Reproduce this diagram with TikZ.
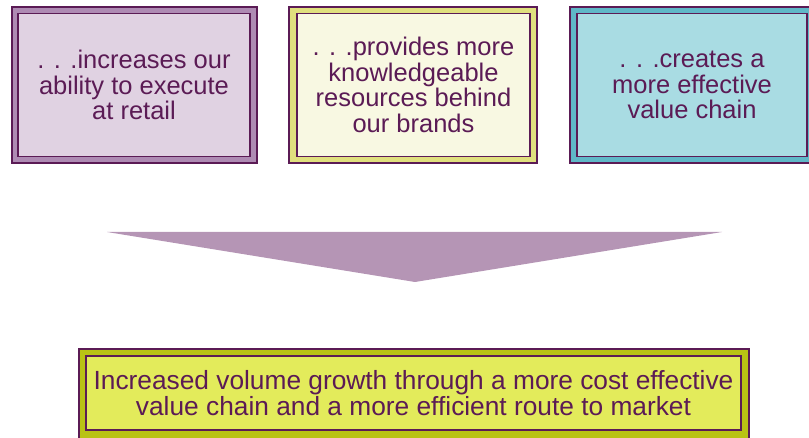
\documentclass[tikz,border=0pt]{standalone}
\usepackage{fontspec}
\setmainfont{Liberation Sans}
\definecolor{edge}{HTML}{5B1B55}
\definecolor{plumOut}{HTML}{AE8BB3}
\definecolor{plumIn}{HTML}{E0D2E2}
\definecolor{creamOut}{HTML}{E0E07E}
\definecolor{creamIn}{HTML}{F8F8E2}
\definecolor{tealOut}{HTML}{5FB8C8}
\definecolor{tealIn}{HTML}{A9DCE3}
\definecolor{oliveOut}{HTML}{B9C214}
\definecolor{oliveIn}{HTML}{E3EB5B}
\definecolor{arrowFill}{HTML}{B595B5}
\begin{document}
\begin{tikzpicture}[x=1pt,y=-1pt,
  frame/.style={draw=edge,line width=1.6pt,inner sep=0pt,outer sep=0pt},
  panel/.style={draw=edge,line width=1.6pt,inner sep=0pt,outer sep=0pt,
    text=edge,font=\fontsize{25.5}{25.5}\selectfont,align=center}]
\useasboundingbox (0,0) rectangle (809,438);
\begin{scope}
\clip (0,0) rectangle (809,438);
% top row: three framed statements
\node[frame,fill=plumOut,minimum width=245pt,minimum height=156pt] (f1) at (134.5,85) {};
\node[panel,fill=plumIn,minimum width=232pt,minimum height=143pt] (p1) at (134,85)
  {. . .increases our\\ability to execute\\at retail};
\node[frame,fill=creamOut,minimum width=248pt,minimum height=156pt] (f2) at (413,85) {};
\node[panel,fill=creamIn,minimum width=233pt,minimum height=143pt] (p2) at (413.5,85)
  {. . .provides more\\knowledgeable\\resources behind\\our brands};
\node[frame,fill=tealOut,minimum width=244pt,minimum height=156pt] (f3) at (692,85) {};
\node[panel,fill=tealIn,minimum width=230pt,minimum height=143pt] (p3) at (692,85)
  {. . .creates a\\more effective\\value chain};
% downward chevron
\coordinate (aL) at (107,232);
\coordinate (aR) at (722,232);
\coordinate (aT) at (415,282);
\fill[arrowFill] (aL) -- (aR) -- (aT) -- cycle;
% result statement
\node[frame,fill=oliveOut,minimum width=670pt,minimum height=92pt] (f4) at (414,395) {};
\node[panel,fill=oliveIn,minimum width=655pt,minimum height=74pt,
  font=\fontsize{26.3}{24.5}\selectfont] (p4) at (413.5,393)
  {Increased volume growth through a more cost effective\\value chain and a more efficient route to market};
\end{scope}
\end{tikzpicture}
\end{document}
